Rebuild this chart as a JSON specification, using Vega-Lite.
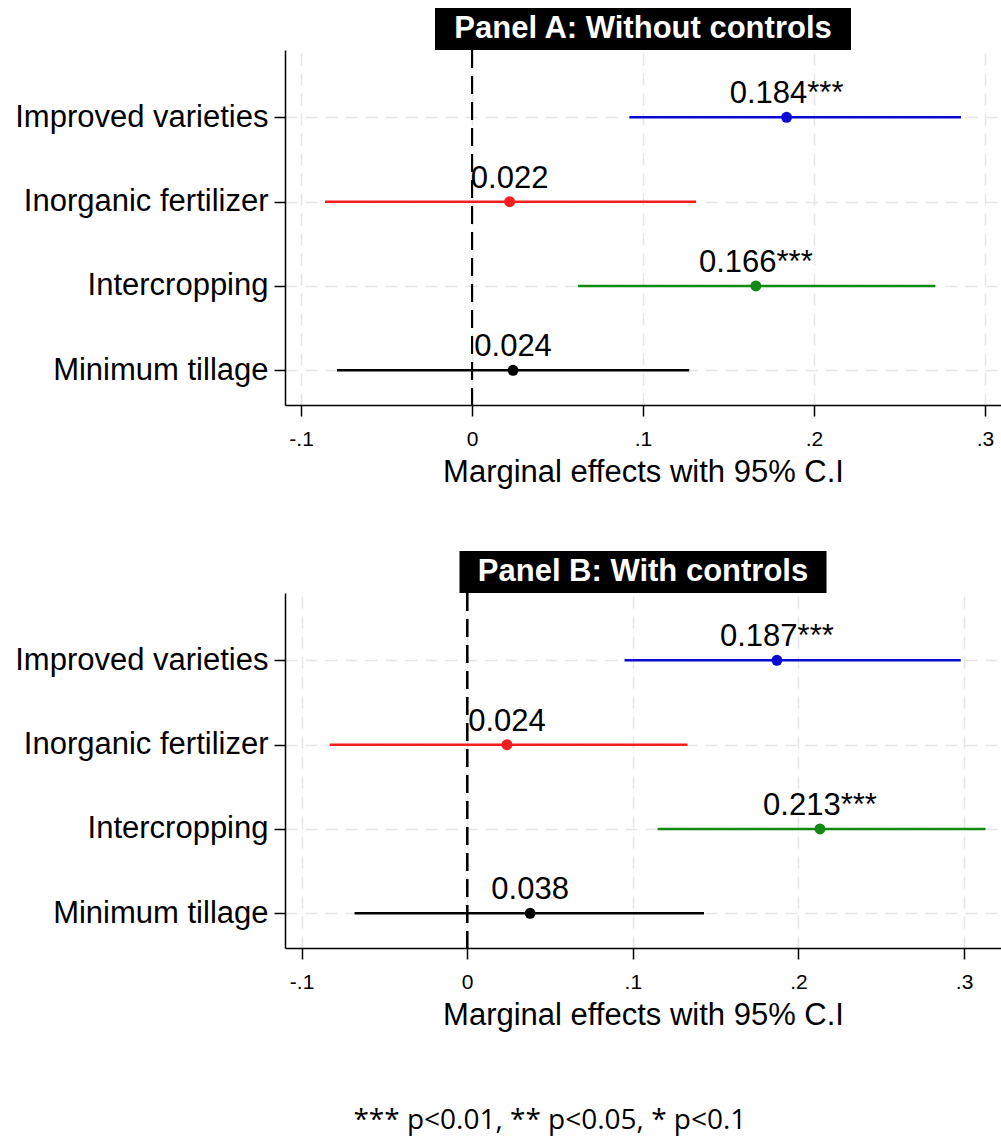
{
  "$schema": "https://vega.github.io/schema/vega-lite/v6.json",
  "background": "white",
  "padding": {"left": 14, "top": 8, "right": 0, "bottom": 10},
  "config": {
    "view": {"stroke": null},
    "font": "Liberation Sans",
    "axis": {
      "domainColor": "black", "domainWidth": 1.5,
      "tickColor": "black", "tickWidth": 1.5, "tickSize": 11,
      "labelColor": "black", "titleColor": "black",
      "labelFont": "Liberation Sans", "titleFont": "Liberation Sans",
      "labelLimit": 0,
      "grid": true, "gridColor": "#e6e6e6", "gridDash": [12, 8], "gridWidth": 1.5
    }
  },
  "datasets": {
    "panelA": [
      {"term": "Improved varieties", "est": 0.184, "lo": 0.092, "hi": 0.286, "label": "0.184***"},
      {"term": "Inorganic fertilizer", "est": 0.022, "lo": -0.086, "hi": 0.131, "label": "0.022"},
      {"term": "Intercropping", "est": 0.166, "lo": 0.062, "hi": 0.271, "label": "0.166***"},
      {"term": "Minimum tillage", "est": 0.024, "lo": -0.079, "hi": 0.127, "label": "0.024"}
    ],
    "panelB": [
      {"term": "Improved varieties", "est": 0.187, "lo": 0.095, "hi": 0.298, "label": "0.187***"},
      {"term": "Inorganic fertilizer", "est": 0.024, "lo": -0.083, "hi": 0.133, "label": "0.024"},
      {"term": "Intercropping", "est": 0.213, "lo": 0.115, "hi": 0.313, "label": "0.213***"},
      {"term": "Minimum tillage", "est": 0.038, "lo": -0.068, "hi": 0.143, "label": "0.038"}
    ]
  },
  "title": {
    "text": "*** p<0.01, ** p<0.05, * p<0.1",
    "orient": "bottom", "anchor": "middle",
    "font": "Open Sans", "fontSize": 28, "fontWeight": "normal", "color": "black",
    "offset": 77, "dx": 42
  },
  "spacing": 64,
  "vconcat": [
    {
      "spacing": 0, "bounds": "flush", "center": true,
      "vconcat": [
        {
          "data": {"values": [{"title": "Panel A: Without controls"}]},
          "width": 416, "height": 42,
          "layer": [
            {"mark": {"type": "rect", "color": "black"}, "encoding": {}},
            {"mark": {"type": "text", "color": "white", "font": "Liberation Sans", "fontWeight": "bold", "fontSize": 31, "baseline": "middle", "align": "center"},
             "encoding": {"text": {"field": "title"}}}
          ]
        },
        {
          "data": {"name": "panelA"},
          "width": 716, "height": 355,
          "encoding": {
            "y": {"field": "term", "type": "nominal",
                  "sort": ["Improved varieties", "Inorganic fertilizer", "Intercropping", "Minimum tillage"],
                  "scale": {"type": "point", "padding": 0.605, "align": 0.66},
                  "axis": {"title": null, "labelFontSize": 31, "labelPadding": 6}},
            "x": {"field": "est", "type": "quantitative",
                  "scale": {"domain": [-0.1094, 0.3094], "nice": false, "zero": false},
                  "axis": {"values": [-0.1, 0, 0.1, 0.2, 0.3],
                           "labelExpr": "datum.value == 0 ? '0' : (datum.value < 0 ? '-' : '') + replace(format(abs(datum.value), '.1f'), '0.', '.')",
                           "title": "Marginal effects with 95% C.I", "titleFontSize": 31, "titleFontWeight": "normal", "titlePadding": 8,
                           "labelFontSize": 21, "labelPadding": 12}},
            "color": {"field": "term", "type": "nominal", "legend": null,
                      "scale": {"domain": ["Improved varieties", "Inorganic fertilizer", "Intercropping", "Minimum tillage"],
                                "range": ["#0a0ad2", "#f41e1e", "#138a13", "#000000"]}}
          },
          "layer": [
            {"mark": {"type": "rule", "color": "black", "strokeWidth": 2, "strokeDash": [18, 8]},
             "encoding": {"x": {"datum": 0}, "y": null, "color": null}},
            {"mark": {"type": "rule", "strokeWidth": 2.5},
             "encoding": {"x": {"field": "lo", "type": "quantitative"}, "x2": {"field": "hi"}}},
            {"mark": {"type": "point", "filled": true, "size": 120, "opacity": 1}},
            {"mark": {"type": "text", "fontSize": 31, "baseline": "alphabetic", "dy": -14, "color": "black", "font": "Liberation Sans"},
             "encoding": {"text": {"field": "label"}, "color": null}}
          ]
        }
      ]
    },
    {
      "spacing": 0, "bounds": "flush", "center": true,
      "vconcat": [
        {
          "data": {"values": [{"title": "Panel B: With controls"}]},
          "width": 367, "height": 42,
          "layer": [
            {"mark": {"type": "rect", "color": "black"}, "encoding": {}},
            {"mark": {"type": "text", "color": "white", "font": "Liberation Sans", "fontWeight": "bold", "fontSize": 31, "baseline": "middle", "align": "center"},
             "encoding": {"text": {"field": "title"}}}
          ]
        },
        {
          "data": {"name": "panelB"},
          "width": 716, "height": 355,
          "encoding": {
            "y": {"field": "term", "type": "nominal",
                  "sort": ["Improved varieties", "Inorganic fertilizer", "Intercropping", "Minimum tillage"],
                  "scale": {"type": "point", "padding": 0.605, "align": 0.66},
                  "axis": {"title": null, "labelFontSize": 31, "labelPadding": 6}},
            "x": {"field": "est", "type": "quantitative",
                  "scale": {"domain": [-0.11, 0.3223], "nice": false, "zero": false},
                  "axis": {"values": [-0.1, 0, 0.1, 0.2, 0.3],
                           "labelExpr": "datum.value == 0 ? '0' : (datum.value < 0 ? '-' : '') + replace(format(abs(datum.value), '.1f'), '0.', '.')",
                           "title": "Marginal effects with 95% C.I", "titleFontSize": 31, "titleFontWeight": "normal", "titlePadding": 8,
                           "labelFontSize": 21, "labelPadding": 12}},
            "color": {"field": "term", "type": "nominal", "legend": null,
                      "scale": {"domain": ["Improved varieties", "Inorganic fertilizer", "Intercropping", "Minimum tillage"],
                                "range": ["#0a0ad2", "#f41e1e", "#138a13", "#000000"]}}
          },
          "layer": [
            {"mark": {"type": "rule", "color": "black", "strokeWidth": 2, "strokeDash": [18, 8]},
             "encoding": {"x": {"datum": 0}, "y": null, "color": null}},
            {"mark": {"type": "rule", "strokeWidth": 2.5},
             "encoding": {"x": {"field": "lo", "type": "quantitative"}, "x2": {"field": "hi"}}},
            {"mark": {"type": "point", "filled": true, "size": 120, "opacity": 1}},
            {"mark": {"type": "text", "fontSize": 31, "baseline": "alphabetic", "dy": -14, "color": "black", "font": "Liberation Sans"},
             "encoding": {"text": {"field": "label"}, "color": null}}
          ]
        }
      ]
    }
  ]
}
